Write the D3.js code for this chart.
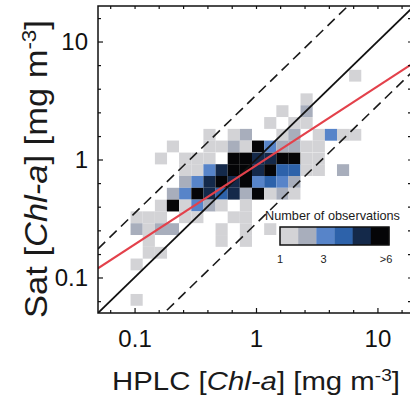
<!DOCTYPE html>
<html><head><meta charset="utf-8">
<script src="https://cdn.jsdelivr.net/npm/d3@7"></script>
<style>html,body{margin:0;padding:0;background:#fff;} svg{display:block;}</style>
</head><body>
<svg id="chart" width="410" height="400"></svg>
<script>
// ---- data ----
// 2-D histogram cells: bin centre HPLC value, bin centre Sat value, count (6 = ">6")
const binHPLC = [
  6.56,
  2.61,
  1.65, 2.61,
  1.31, 2.07, 2.61,
  0.414, 0.656, 0.826, 1.65, 2.07, 3.29, 4.14, 5.21, 6.56,
  0.207, 0.414, 0.521, 0.656, 0.826, 1.04, 1.31, 1.65, 2.07, 2.61, 3.29,
  0.165, 0.261, 0.329, 0.414, 0.656, 0.826, 1.04, 1.31, 1.65, 2.07, 2.61, 3.29,
  0.261, 0.329, 0.414, 0.521, 0.656, 0.826, 1.04, 1.31, 1.65, 2.07, 2.61, 3.29, 5.21,
  0.261, 0.329, 0.414, 0.521, 0.656, 0.826, 1.04, 1.31, 1.65, 2.07,
  0.207, 0.261, 0.329, 0.414, 0.521, 0.656, 0.826, 1.04, 1.31, 1.65, 2.07,
  0.165, 0.207, 0.261, 0.329, 0.414, 0.521, 0.826,
  0.104, 0.131, 0.165, 0.261, 0.329, 0.656, 0.826,
  0.104, 0.131, 0.165, 0.207, 0.521, 0.826, 1.31,
  0.131, 0.521, 0.826,
  0.131, 0.165,
  0.104,
  0.104
];
const binSat = [
  5.13,
  3.24,
  2.57, 2.57,
  2.04, 2.04, 2.04,
  1.62, 1.62, 1.62, 1.62, 1.62, 1.62, 1.62, 1.62, 1.62,
  1.29, 1.29, 1.29, 1.29, 1.29, 1.29, 1.29, 1.29, 1.29, 1.29, 1.29,
  1.02, 1.02, 1.02, 1.02, 1.02, 1.02, 1.02, 1.02, 1.02, 1.02, 1.02, 1.02,
  0.813, 0.813, 0.813, 0.813, 0.813, 0.813, 0.813, 0.813, 0.813, 0.813, 0.813, 0.813, 0.813,
  0.646, 0.646, 0.646, 0.646, 0.646, 0.646, 0.646, 0.646, 0.646, 0.646,
  0.513, 0.513, 0.513, 0.513, 0.513, 0.513, 0.513, 0.513, 0.513, 0.513, 0.513,
  0.407, 0.407, 0.407, 0.407, 0.407, 0.407, 0.407,
  0.324, 0.324, 0.324, 0.324, 0.324, 0.324, 0.324,
  0.257, 0.257, 0.257, 0.257, 0.257, 0.257, 0.257,
  0.204, 0.204, 0.204,
  0.162, 0.162,
  0.129,
  0.0646
];
const binCount = [
  1,
  1,
  1, 2,
  1, 1, 1,
  1, 1, 2, 1, 2, 1, 3, 1, 1,
  1, 1, 1, 2, 1, 6, 3, 2, 2, 1, 1,
  1, 1, 1, 1, 6, 6, 5, 5, 6, 6, 1, 1,
  1, 1, 3, 5, 6, 6, 5, 6, 4, 4, 1, 1, 2,
  2, 3, 5, 6, 5, 6, 3, 4, 3, 2,
  2, 3, 6, 5, 4, 5, 2, 6, 1, 2, 1,
  1, 6, 1, 3, 2, 1, 1,
  1, 1, 1, 1, 1, 1, 1,
  2, 1, 2, 2, 1, 1, 1,
  1, 1, 1,
  1, 1,
  1,
  1
];
const binHalfWidthLog = 0.05;            // bins are 0.1 decade wide
const axisDomain = [0.05, 20];
const majorTicks = [0.1, 1, 10];
const majorTickLabels = ["0.1", "1", "10"];
const minorTicks = [0.063, 0.158, 0.251, 0.398, 0.631, 1.58, 2.51, 3.98, 6.31, 15.8];
const countColors = ["#d3d3d6", "#a8aebc", "#5784c9", "#2d62aa", "#14294a", "#050507"];
const colorbarCounts = [1, 2, 3, 4, 5, 6];
const colorbarLabelValues = [1, 3, 6];
const colorbarLabels = ["1", "3", ">6"];
const lineX = [0.05, 20];
const bandFactor = 3.5;                  // dashed lines y = x*3.5, y = x/3.5
const fitCoef = 0.89, fitExp = 0.67;     // red regression line y = 0.89 x^0.67

// ---- drawing ----
const svg = d3.select("#chart");
const L = 98, R = 414, T = 6, B = 313;
const x = d3.scaleLog().domain(axisDomain).range([L, R]);
const y = d3.scaleLog().domain(axisDomain).range([B, T]);
const font = "'Liberation Sans', Arial, Helvetica, sans-serif";

svg.append("defs").append("clipPath").attr("id", "clip")
  .append("rect").attr("x", L).attr("y", T).attr("width", R - L).attr("height", B - T);

const cells = binHPLC.map((h, i) => ({h, s: binSat[i], n: binCount[i]}));
const f = Math.pow(10, binHalfWidthLog);
const plot = svg.append("g").attr("clip-path", "url(#clip)");
plot.selectAll("rect.cell").data(cells).enter().append("rect")
  .attr("class", "cell")
  .attr("x", d => x(d.h / f))
  .attr("width", d => x(d.h * f) - x(d.h / f))
  .attr("y", d => y(d.s * f))
  .attr("height", d => y(d.s / f) - y(d.s * f))
  .attr("fill", d => countColors[Math.min(d.n, 6) - 1]);

const line = d3.line().x(d => x(d[0])).y(d => y(d[1]));
plot.append("path").datum(lineX.map(v => [v, v * bandFactor]))
  .attr("d", line).attr("fill", "none").attr("stroke", "#1a1a1a")
  .attr("stroke-width", 1.6).attr("stroke-dasharray", "10,6");
plot.append("path").datum(lineX.map(v => [v, v / bandFactor]))
  .attr("d", line).attr("fill", "none").attr("stroke", "#1a1a1a")
  .attr("stroke-width", 1.6).attr("stroke-dasharray", "10,6");
plot.append("path").datum(lineX.map(v => [v, v]))
  .attr("d", line).attr("fill", "none").attr("stroke", "#111")
  .attr("stroke-width", 1.8);
plot.append("path").datum(lineX.map(v => [v, fitCoef * Math.pow(v, fitExp)]))
  .attr("d", line).attr("fill", "none").attr("stroke", "#e3414b")
  .attr("stroke-width", 2);

// axes (ticks inward)
function styleAxis(g) {
  g.select(".domain").remove();
  g.selectAll("line").attr("stroke", "#111").attr("stroke-width", 1.2);
  g.selectAll("text").attr("font-family", font).attr("font-size", 24).attr("fill", "#111");
}
svg.append("g").attr("transform", `translate(0,${B})`)
  .call(d3.axisBottom(x).tickValues(minorTicks).tickSize(-3).tickFormat("")).call(styleAxis);
svg.append("g").attr("transform", `translate(0,${B})`)
  .call(d3.axisBottom(x).tickValues(majorTicks).tickSize(-5).tickPadding(17)
    .tickFormat((d, i) => majorTickLabels[i])).call(styleAxis);
svg.append("g").attr("transform", `translate(0,${T})`)
  .call(d3.axisTop(x).tickValues(minorTicks.concat(majorTicks)).tickSize(-3).tickFormat("")).call(styleAxis);
svg.append("g").attr("transform", `translate(${L},0)`)
  .call(d3.axisLeft(y).tickValues(minorTicks).tickSize(-3).tickFormat("")).call(styleAxis);
svg.append("g").attr("transform", `translate(${L},0)`)
  .call(d3.axisLeft(y).tickValues(majorTicks).tickSize(-5).tickPadding(10)
    .tickFormat((d, i) => majorTickLabels[i])).call(styleAxis);
svg.append("g").attr("transform", `translate(${R},0)`)
  .call(d3.axisRight(y).tickValues(minorTicks.concat(majorTicks)).tickSize(-6).tickFormat("")).call(styleAxis);

svg.append("rect").attr("x", L).attr("y", T).attr("width", R - L).attr("height", B - T)
  .attr("fill", "none").attr("stroke", "#111").attr("stroke-width", 1.5);

// axis titles
function titleText(parent, first) {
  const t = parent.append("text").attr("font-family", font).attr("fill", "#1a1a1a")
    .attr("text-anchor", "middle");
  t.append("tspan").text(first + " [");
  t.append("tspan").attr("font-style", "italic").text("Chl-a");
  t.append("tspan").text("] [mg m");
  t.append("tspan").attr("font-size", "0.65em").attr("dy", "-0.55em").text("-3");
  t.append("tspan").attr("dy", "0.36em").text("]");
  return t;
}
const xt = titleText(svg.append("g"), "HPLC").attr("font-size", 26);
const xw = xt.node().getBBox().width;
xt.attr("transform", `translate(256,390) scale(${288 / xw},1)`);

const yt = titleText(svg.append("g"), "Sat").attr("font-size", 31);
const yw = yt.node().getBBox().width;
yt.attr("transform", `translate(47,169) rotate(-90) scale(${298 / yw},1)`);

// colour bar
const cb = d3.scaleLinear().domain([1, 6]).range([280, 389]);
const segW = (cb.range()[1] - cb.range()[0]) / colorbarCounts.length;
const cbg = svg.append("g");
cbg.selectAll("rect.seg").data(colorbarCounts).enter().append("rect")
  .attr("x", (d, i) => cb.range()[0] + i * segW).attr("width", segW + 0.3)
  .attr("y", 227).attr("height", 18).attr("fill", d => countColors[d - 1]);
cbg.append("rect").attr("x", 280).attr("y", 227).attr("width", 109).attr("height", 18)
  .attr("fill", "none").attr("stroke", "#111").attr("stroke-width", 1.5);
cbg.selectAll("text.lab").data(colorbarLabelValues).enter().append("text")
  .attr("x", d => cb(d) + (d === 6 ? -3 : 0)).attr("y", 263)
  .attr("text-anchor", "middle").attr("font-family", font).attr("font-size", 11)
  .attr("fill", "#222").text((d, i) => colorbarLabels[i]);
const ct = cbg.append("text").attr("font-family", font).attr("font-size", 12)
  .attr("fill", "#1a1a1a").attr("text-anchor", "start").text("Number of observations");
const cw = ct.node().getBBox().width;
ct.attr("transform", `translate(265,220) scale(${135 / cw},1)`);
</script>
</body></html>
